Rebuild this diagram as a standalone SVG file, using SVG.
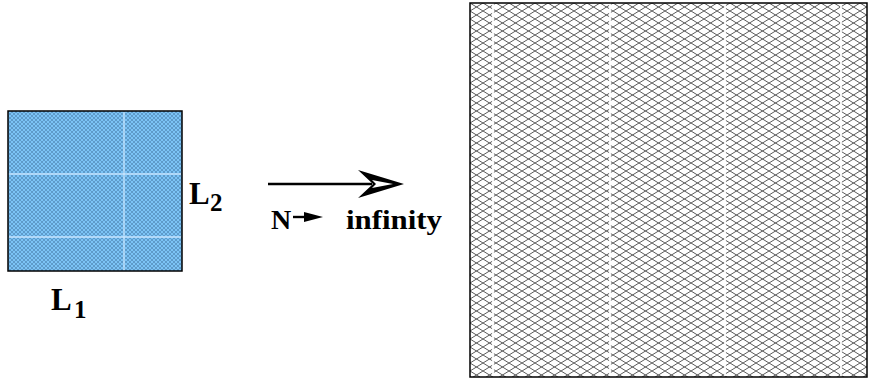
<svg xmlns="http://www.w3.org/2000/svg" width="870" height="381" viewBox="0 0 870 381">
<defs>
<style>
.t{font-family:"Liberation Serif","Times New Roman",serif;font-weight:bold;fill:#000}
.w{stroke:#c8e6ff;stroke-width:1.3}
.ww{stroke:#fff;stroke-width:1.8}
</style>
<pattern id="blue" x="0" y="0" width="4" height="4" patternUnits="userSpaceOnUse">
<rect width="4" height="4" fill="#7cc4f6"/>
<path d="M0,0 L4,4 M4,0 L0,4" stroke="#4679a6" stroke-width="0.55"/>
</pattern>
<pattern id="lat" x="470" y="3" width="13" height="8" patternUnits="userSpaceOnUse">
<rect width="13" height="8" fill="#fff"/>
<path d="M0,0 L13,8 M0,8 L13,0" stroke="#5a5a5a" stroke-width="1"/>
</pattern>
</defs>
<g id="left-box">
<rect x="8" y="111" width="174" height="160" fill="url(#blue)" stroke="#000" stroke-width="1.5"/>
<line class="w" x1="124" y1="112" x2="124" y2="270"/>
<line class="w" x1="9" y1="174" x2="181" y2="174"/>
<line class="w" x1="9" y1="237" x2="181" y2="237"/>
</g>
<g id="right-box">
<rect x="470" y="3" width="397" height="374" fill="url(#lat)" stroke="#000" stroke-width="1.5"/>
<line class="ww" x1="493" y1="4" x2="493" y2="376"/>
<line class="ww" x1="610" y1="4" x2="610" y2="376"/>
<line class="ww" x1="725" y1="4" x2="725" y2="376"/>
<line class="ww" x1="841" y1="4" x2="841" y2="376"/>
</g>
<g id="connectors">
<line x1="268" y1="184" x2="372" y2="184" stroke="#000" stroke-width="2.4"/>
<path d="M358,170 L404,184 L358,198 L373,184 Z" fill="#000"/>
<path d="M372,180 L393,184 L372,188 L376,184 Z" fill="#fff"/>
<line x1="293" y1="217" x2="310" y2="217" stroke="#000" stroke-width="2.4"/>
<path d="M304,212 L323,217 L304,222 Z" fill="#000"/>
</g>
<g id="labels">
<text class="t" x="189" y="204" font-size="31">L</text>
<text class="t" x="210" y="211" font-size="25">2</text>
<text class="t" x="51" y="310" font-size="31">L</text>
<text class="t" x="74" y="318" font-size="25">1</text>
<text class="t" x="271" y="229" font-size="28">N</text>
<text class="t" x="346" y="229" font-size="28" textLength="96" lengthAdjust="spacingAndGlyphs">infinity</text>
</g>
</svg>
